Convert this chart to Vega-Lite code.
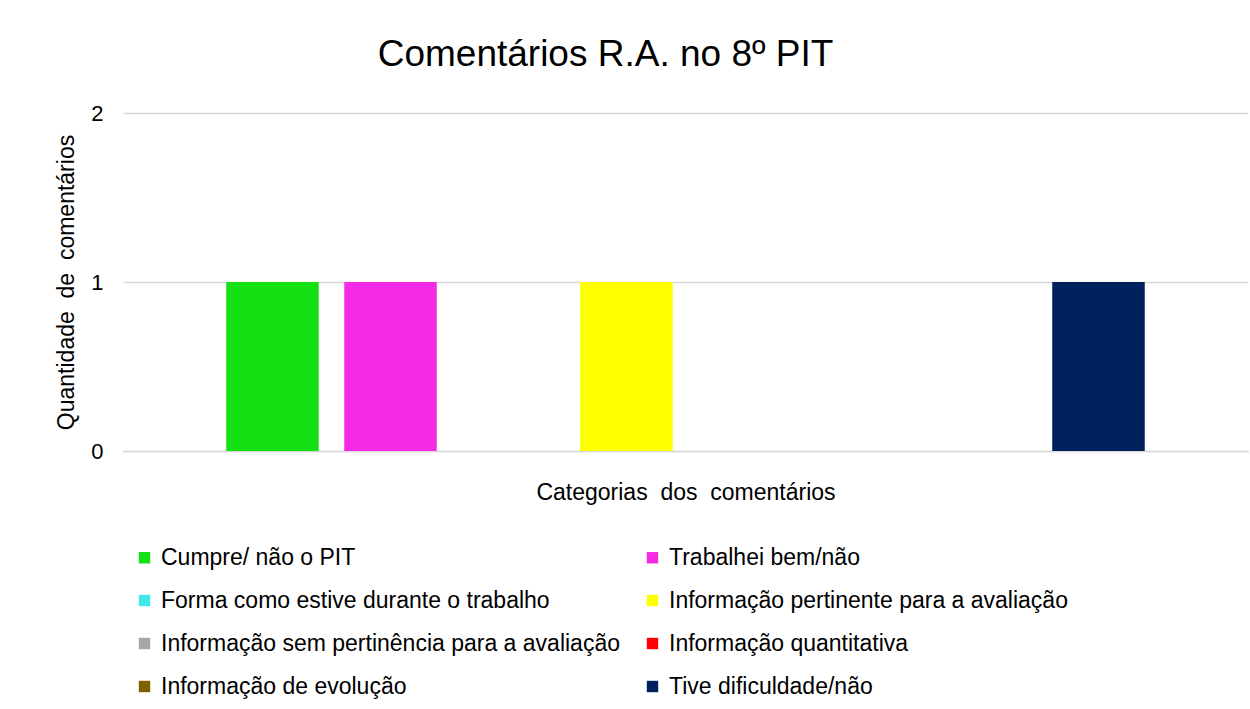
{
  "$schema": "https://vega.github.io/schema/vega-lite/v6.json",
  "autosize": "none",
  "width": 1125,
  "height": 338,
  "padding": {"left": 123, "top": 113, "right": 2, "bottom": 258},
  "background": "white",
  "config": {
    "font": "Liberation Sans",
    "view": {"stroke": null}
  },
  "title": {
    "text": "Comentários R.A. no 8º PIT",
    "fontSize": 37,
    "fontWeight": "normal",
    "color": "#000000",
    "font": "Liberation Sans",
    "anchor": "middle",
    "dx": -80,
    "offset": 28
  },
  "data": {
    "values": [
      {"categoria": "Cumpre/ não o PIT", "quantidade": 1},
      {"categoria": "Trabalhei bem/não", "quantidade": 1},
      {"categoria": "Forma como estive durante o trabalho", "quantidade": 0},
      {"categoria": "Informação pertinente para a avaliação", "quantidade": 1},
      {"categoria": "Informação sem pertinência para a avaliação", "quantidade": 0},
      {"categoria": "Informação quantitativa", "quantidade": 0},
      {"categoria": "Informação de evolução", "quantidade": 0},
      {"categoria": "Tive dificuldade/não", "quantidade": 1}
    ]
  },
  "mark": {"type": "bar"},
  "encoding": {
    "x": {
      "field": "categoria",
      "type": "nominal",
      "sort": null,
      "scale": {"paddingInner": 0.216, "paddingOuter": 0.875},
      "axis": {
        "title": "Categorias \u00a0dos \u00a0comentários",
        "titleFontSize": 23,
        "titleFontWeight": "normal",
        "titleColor": "#000000",
        "titlePadding": 30,
        "labels": false,
        "ticks": false,
        "domainColor": "#D9D9D9",
        "domainWidth": 1.5
      }
    },
    "y": {
      "field": "quantidade",
      "type": "quantitative",
      "scale": {"domain": [0, 2], "nice": false},
      "axis": {
        "title": "Quantidade \u00a0de \u00a0comentários",
        "titleFontSize": 23,
        "titleFontWeight": "normal",
        "titleColor": "#000000",
        "titlePadding": 12,
        "tickCount": 2,
        "labelFontSize": 22,
        "labelColor": "#000000",
        "labelPadding": 20,
        "labelOverlap": false,
        "ticks": false,
        "domain": false,
        "gridColor": "#D9D9D9",
        "gridWidth": 1.5
      }
    },
    "color": {
      "field": "categoria",
      "type": "nominal",
      "sort": null,
      "scale": {
        "domain": [
          "Cumpre/ não o PIT",
          "Trabalhei bem/não",
          "Forma como estive durante o trabalho",
          "Informação pertinente para a avaliação",
          "Informação sem pertinência para a avaliação",
          "Informação quantitativa",
          "Informação de evolução",
          "Tive dificuldade/não"
        ],
        "range": ["#14E114", "#F52AE5", "#40E8E8", "#FFFF00", "#A6A6A6", "#FF0000", "#7F6000", "#00205E"]
      },
      "legend": {
        "title": null,
        "orient": "none",
        "direction": "horizontal",
        "legendX": 10,
        "legendY": 433,
        "columns": 2,
        "symbolType": "square",
        "symbolSize": 130,
        "symbolStrokeWidth": 0,
        "labelFontSize": 23,
        "labelColor": "#000000",
        "labelLimit": 600,
        "labelOffset": 5,
        "rowPadding": 19,
        "columnPadding": 21
      }
    }
  }
}
